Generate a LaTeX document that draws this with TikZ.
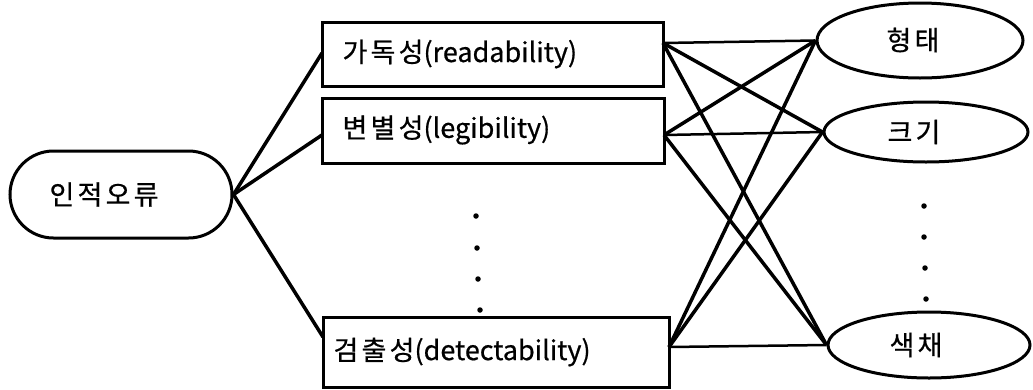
\documentclass[tikz,border=0pt]{standalone}
\usepackage{fontspec}
\setmainfont{Noto Sans CJK KR}[FakeBold=0.6]
\newfontfamily\hg{Noto Sans CJK KR}[FakeBold=0.6,LetterSpace=12]
\usetikzlibrary{shapes.geometric,shapes.misc}
\tikzset{
  lbl/.style={font=\fontsize{27}{30}\selectfont},
  catbox/.style={draw, line width=3pt, rectangle, inner sep=0pt},
  rootbox/.style={draw, line width=3pt, rounded rectangle, inner sep=0pt, minimum width=222pt, minimum height=87pt},
  factor/.style={draw, line width=3pt, ellipse, inner sep=0pt},
  link/.style={line width=3.5pt},
  flat/.style={line width=2.5pt},
  dot/.style={circle, fill, inner sep=0pt, minimum size=5.5pt}
}
\begin{document}
\begin{tikzpicture}[x=1pt,y=-1pt]
\useasboundingbox (0,0) rectangle (1033,389);
% root
\node[rootbox] (human) at (121,194.5) {};
\node[lbl, anchor=west] (th) at (46,194.5) {\hg 인적오류};
% category boxes
\node[catbox, minimum width=341pt, minimum height=64pt] (b1) at (492.5,54) {};
\node[catbox, minimum width=342pt, minimum height=65pt] (b2) at (493,130.5) {};
\node[catbox, minimum width=346pt, minimum height=70pt] (b3) at (496,352) {};
\node[lbl, anchor=west] (t1) at (339,54) {{\hg 가독성}(readability)};
\node[lbl, anchor=west] (t2) at (339,130) {{\hg 변별성}(legibility)};
\node[lbl, anchor=west] (t3) at (330,352) {{\hg 검출성}(detectability)};
% factor ellipses
\node[factor, minimum width=206pt, minimum height=75pt] (e1) at (920,40.5) {};
\node[factor, minimum width=204pt, minimum height=60pt] (e2) at (926,132) {};
\node[factor, minimum width=202pt, minimum height=66pt] (e3) at (929,345) {};
\node[lbl] (f1) at (913,40) {\hg 형태};
\node[lbl] (f2) at (914,132) {\hg 크기};
\node[lbl] (f3) at (916,345) {\hg 색채};
% attachment points
\coordinate (l1) at (322,53);
\coordinate (l2) at (322,135);
\coordinate (l3) at (323,337);
\coordinate (r1) at (663,43);
\coordinate (r2) at (664,135);
\coordinate (r3) at (669,347);
% left connectors
\draw[link] (human.east) -- (l1);
\draw[link] (human.east) -- (l2);
\draw[link] (human.east) -- (l3);
% right connectors
\draw[flat] (r1) -- (e1.west);
\draw[link] (r1) -- (e2.west);
\draw[link] (r1) -- (e3.west);
\draw[link] (r2) -- (e1.west);
\draw[flat] (r2) -- (e2.west);
\draw[link] (r2) -- (e3.west);
\draw[link] (r3) -- (e1.west);
\draw[link] (r3) -- (e2.west);
\draw[flat] (r3) -- (e3.west);
% ellipsis dots
\node[dot] (m1) at (476,216) {};
\node[dot] (m2) at (477,248) {};
\node[dot] (m3) at (478,279) {};
\node[dot] (m4) at (480,310) {};
\node[dot] (n1) at (924,206) {};
\node[dot] (n2) at (924,237) {};
\node[dot] (n3) at (925,268) {};
\node[dot] (n4) at (926,299) {};
\end{tikzpicture}
\end{document}
